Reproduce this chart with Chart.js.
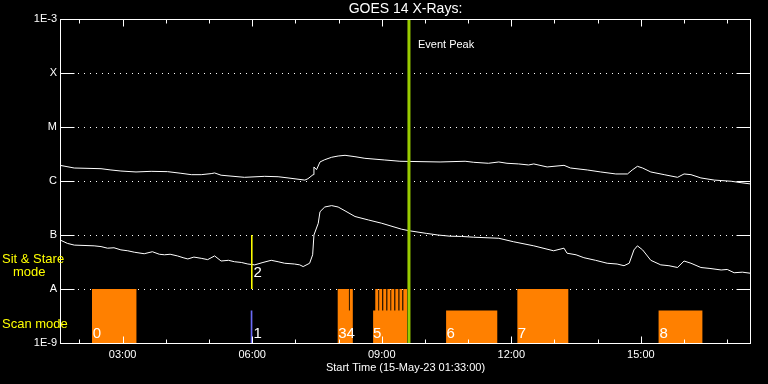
<!DOCTYPE html>
<html>
<head>
<meta charset="utf-8">
<script src="https://cdn.jsdelivr.net/npm/chart.js@4.4.1/dist/chart.umd.min.js"></script>
<style>
  html, body { margin: 0; padding: 0; background: #000; }
  canvas { background: #000; display: block; }
</style>
</head>
<body>
<canvas id="goesChart" width="768" height="384"></canvas>
<script>
// time axis in decimal hours UT (start 01:33)
const tStart = 1.55;
const tEnd = 17.55;
const hourTicks = [2, 3, 4, 5, 6, 7, 8, 9, 10, 11, 12, 13, 14, 15, 16, 17];

const decades = [1e-9, 1e-8, 1e-7, 1e-6, 1e-5, 1e-4, 1e-3];
const decadeNames = ['1E-9', 'A', 'B', 'C', 'M', 'X', '1E-3'];

// GOES 14 long channel (1-8 A)
const longTime = [1.55, 1.88, 2.50, 2.73, 2.96, 3.31, 3.66, 4.04, 4.35, 4.59, 4.82, 5.05, 5.13, 5.28, 5.82, 6.29, 6.60, 6.83, 7.22, 7.29, 7.41, 7.43, 7.49, 7.57, 7.68, 7.84, 7.99, 8.15, 8.38, 8.61, 9.07, 9.42, 10.35, 10.93, 11.13, 11.47, 11.71, 11.90, 12.17, 12.40, 12.52, 12.83, 13.22, 13.37, 13.76, 14.07, 14.42, 14.69, 14.80, 14.92, 15.04, 15.23, 15.54, 15.85, 16.00, 16.16, 16.39, 16.70, 17.09, 17.32, 17.55];
const longFlux = [1.95e-6, 1.74e-6, 1.69e-6, 1.60e-6, 1.53e-6, 1.47e-6, 1.51e-6, 1.49e-6, 1.39e-6, 1.31e-6, 1.31e-6, 1.37e-6, 1.41e-6, 1.28e-6, 1.17e-6, 1.22e-6, 1.20e-6, 1.14e-6, 1.04e-6, 1.10e-6, 1.31e-6, 1.82e-6, 1.62e-6, 2.25e-6, 2.48e-6, 2.75e-6, 2.90e-6, 2.99e-6, 2.82e-6, 2.63e-6, 2.45e-6, 2.32e-6, 2.25e-6, 2.32e-6, 2.22e-6, 2.13e-6, 2.25e-6, 2.13e-6, 2.07e-6, 1.98e-6, 2.07e-6, 1.82e-6, 1.95e-6, 1.74e-6, 1.60e-6, 1.47e-6, 1.35e-6, 1.35e-6, 1.60e-6, 1.87e-6, 1.74e-6, 1.47e-6, 1.31e-6, 1.17e-6, 1.35e-6, 1.31e-6, 1.14e-6, 1.04e-6, 9.9e-7, 9.3e-7, 8.8e-7];

// GOES 14 short channel (0.5-4 A)
const shortTime = [1.55, 1.72, 1.88, 2.34, 2.50, 2.65, 2.80, 2.96, 3.12, 3.27, 3.50, 3.69, 3.85, 3.97, 4.10, 4.27, 4.40, 4.51, 4.65, 4.82, 4.97, 5.13, 5.28, 5.45, 5.59, 5.75, 5.90, 6.06, 6.25, 6.44, 6.60, 6.75, 6.98, 7.10, 7.18, 7.33, 7.40, 7.43, 7.53, 7.57, 7.68, 7.84, 7.99, 8.15, 8.38, 8.69, 9.00, 9.46, 9.66, 10.04, 10.30, 10.58, 10.85, 11.13, 11.71, 12.05, 12.52, 12.98, 13.22, 13.29, 13.50, 13.68, 13.95, 14.22, 14.45, 14.61, 14.73, 14.84, 14.92, 15.04, 15.23, 15.46, 15.65, 15.85, 16.00, 16.16, 16.39, 16.60, 16.86, 17.00, 17.16, 17.35, 17.55];
const shortFlux = [8.1e-8, 7.0e-8, 6.5e-8, 6.3e-8, 6.1e-8, 5.7e-8, 5.8e-8, 5.3e-8, 5.1e-8, 4.8e-8, 4.5e-8, 4.9e-8, 4.4e-8, 4.3e-8, 4.4e-8, 4.1e-8, 3.8e-8, 3.6e-8, 3.9e-8, 3.7e-8, 3.5e-8, 4.1e-8, 3.3e-8, 3.4e-8, 3.2e-8, 3.1e-8, 2.9e-8, 2.8e-8, 3.1e-8, 3.4e-8, 3.2e-8, 3.0e-8, 2.9e-8, 2.8e-8, 2.6e-8, 3.0e-8, 4.3e-8, 1.0e-7, 1.65e-7, 2.7e-7, 3.3e-7, 3.5e-7, 3.3e-7, 2.8e-7, 2.2e-7, 1.9e-7, 1.65e-7, 1.28e-7, 1.19e-7, 1.07e-7, 1.0e-7, 9.5e-8, 9.4e-8, 9.1e-8, 8.7e-8, 7.5e-8, 6.3e-8, 5.1e-8, 5.7e-8, 4.6e-8, 4.3e-8, 3.8e-8, 3.4e-8, 3.0e-8, 2.9e-8, 2.7e-8, 3.0e-8, 5.3e-8, 6.3e-8, 5.3e-8, 3.4e-8, 2.8e-8, 2.7e-8, 2.5e-8, 3.3e-8, 3.0e-8, 2.5e-8, 2.4e-8, 2.25e-8, 2.3e-8, 2.0e-8, 2.05e-8, 1.95e-8];

// observation windows (sit & stare reach level A, scan mode lower)
const stareStart = [2.29, 7.98, 8.26, 8.85, 8.94, 9.035, 9.13, 9.22, 9.315, 9.41, 9.50, 12.14];
const stareEnd   = [3.32, 8.24, 8.33, 8.92, 9.01, 9.105, 9.20, 9.29, 9.385, 9.475, 9.585, 13.32];
const scanStart = [7.98, 8.80, 10.49, 15.41];
const scanEnd   = [8.33, 9.585, 11.675, 16.43];
const blueStart = [5.96];
const blueEnd   = [6.01];
const stareLevel = 1e-8;
const scanLevel = 4e-9;

// markers
const stareMarkTime = 5.99;
const eventPeakTime = 9.63;

const obsLabels     = ['0', '1', '2', '34', '5', '6', '7', '8'];
const obsLabelTime  = [2.31, 6.03, 6.03, 7.99, 8.80, 10.50, 12.15, 15.43];
const obsLabelFlux  = [1.25e-9, 1.25e-9, 1.67e-8, 1.25e-9, 1.25e-9, 1.25e-9, 1.25e-9, 1.25e-9];

const FONT = "'Liberation Sans', Arial, sans-serif";

function toPoints(xs, ys) {
  return xs.map((x, i) => ({ x: x, y: ys[i] }));
}

// step outline of the windows, down to the floor between them
function windowProfile(starts, ends, levels) {
  const floor = 1e-9;
  const edges = [...new Set([...starts, ...ends])].sort((a, b) => a - b);
  const pts = [{ x: edges[0], y: floor }];
  for (let i = 0; i < edges.length - 1; i++) {
    const mid = (edges[i] + edges[i + 1]) / 2;
    let h = floor;
    starts.forEach((s, j) => {
      if (s <= mid && mid < ends[j] && levels[j] > h) h = levels[j];
    });
    pts.push({ x: edges[i], y: h }, { x: edges[i + 1], y: h });
  }
  pts.push({ x: edges[edges.length - 1], y: floor });
  return pts;
}

const orangeStarts = stareStart.concat(scanStart);
const orangeEnds = stareEnd.concat(scanEnd);
const orangeLevels = stareStart.map(() => stareLevel).concat(scanStart.map(() => scanLevel));

const idlFrame = {
  id: 'idlFrame',
  beforeDatasetsDraw(chart) {
    const { ctx, chartArea: a, scales: { y } } = chart;
    ctx.save();
    ctx.strokeStyle = '#fff';
    ctx.lineWidth = 1;
    ctx.setLineDash([1, 5]);
    decades.slice(1, -1).forEach(v => {
      const py = Math.round(y.getPixelForValue(v)) + 0.5;
      ctx.beginPath();
      ctx.moveTo(a.left, py);
      ctx.lineTo(a.right, py);
      ctx.stroke();
    });
    ctx.restore();
  },
  afterDraw(chart) {
    const { ctx, chartArea: a, scales: { x, y } } = chart;
    ctx.save();
    ctx.strokeStyle = '#fff';
    ctx.lineWidth = 1;
    const L = a.left + 0.5, R = a.right - 0.5, T = a.top + 0.5, B = a.bottom + 0.5;
    ctx.strokeRect(L, T, R - L, B - T);

    // inward ticks
    ctx.beginPath();
    hourTicks.forEach(h => {
      const px = Math.round(x.getPixelForValue(h)) + 0.5;
      const len = h % 3 === 0 ? 7 : 4;
      ctx.moveTo(px, B); ctx.lineTo(px, B - len);
      ctx.moveTo(px, T); ctx.lineTo(px, T + len);
    });
    decades.slice(1, -1).forEach(v => {
      const py = Math.round(y.getPixelForValue(v)) + 0.5;
      ctx.moveTo(L, py); ctx.lineTo(L + 14, py);
      ctx.moveTo(R, py); ctx.lineTo(R - 14, py);
    });
    ctx.stroke();

    // observation numbers
    ctx.fillStyle = '#fff';
    ctx.font = '15px ' + FONT;
    ctx.textAlign = 'left';
    ctx.textBaseline = 'alphabetic';
    obsLabels.forEach((t, i) => {
      ctx.fillText(t, x.getPixelForValue(obsLabelTime[i]), y.getPixelForValue(obsLabelFlux[i]));
    });

    // event peak label
    ctx.font = '11px ' + FONT;
    ctx.fillText('Event Peak', x.getPixelForValue(eventPeakTime) + 9, a.top + 29);

    // mode labels
    ctx.fillStyle = '#ffff00';
    ctx.font = '13px ' + FONT;
    ctx.textBaseline = 'middle';
    ctx.fillText('Sit & Stare', 2, 259);
    ctx.fillText('mode', 13, 272);
    ctx.fillText('Scan mode', 2, 324);
    ctx.restore();
  }
};

const ctx = document.getElementById('goesChart').getContext('2d');
const chart = new Chart(ctx, {
  type: 'line',
  data: {
    datasets: [
      {
        label: 'Event Peak',
        data: [{ x: eventPeakTime, y: 1e-3 }, { x: eventPeakTime, y: 1e-9 }],
        borderColor: '#99cc00',
        borderWidth: 3,
        pointRadius: 0,
        order: 0
      },
      {
        label: 'Sit & Stare marker',
        data: [{ x: stareMarkTime, y: 1e-7 }, { x: stareMarkTime, y: 1e-8 }],
        borderColor: '#ffff00',
        borderWidth: 1,
        pointRadius: 0,
        order: 1
      },
      {
        label: 'Long',
        data: toPoints(longTime, longFlux),
        borderColor: '#ffffff',
        borderWidth: 1,
        pointRadius: 0,
        tension: 0,
        order: 2
      },
      {
        label: 'Short',
        data: toPoints(shortTime, shortFlux),
        borderColor: '#ffffff',
        borderWidth: 1,
        pointRadius: 0,
        tension: 0,
        order: 2
      },
      {
        label: 'Scan (blue)',
        data: windowProfile(blueStart, blueEnd, blueStart.map(() => scanLevel)),
        borderColor: 'rgba(0,0,0,0)',
        borderWidth: 0,
        backgroundColor: '#6a6af5',
        fill: { value: 1e-9 },
        pointRadius: 0,
        order: 3
      },
      {
        label: 'Observations',
        data: windowProfile(orangeStarts, orangeEnds, orangeLevels),
        borderColor: 'rgba(0,0,0,0)',
        borderWidth: 0,
        backgroundColor: '#ff8000',
        fill: { value: 1e-9 },
        pointRadius: 0,
        order: 4
      }
    ]
  },
  options: {
    responsive: false,
    animation: false,
    layout: { padding: { left: 0, right: 17, top: 0, bottom: 0 } },
    plugins: {
      legend: { display: false },
      tooltip: { enabled: false },
      title: {
        display: true,
        text: 'GOES 14 X-Rays:',
        color: '#fff',
        fullSize: false,
        font: { family: FONT, size: 14, weight: 'normal' },
        padding: { top: 1, bottom: 1.2 }
      }
    },
    scales: {
      x: {
        type: 'linear',
        min: tStart,
        max: tEnd,
        afterBuildTicks: scale => { scale.ticks = hourTicks.map(v => ({ value: v })); },
        afterFit: scale => { scale.height = 41; },
        grid: { display: false, drawTicks: false },
        border: { display: false },
        ticks: {
          autoSkip: false,
          maxRotation: 0,
          minRotation: 0,
          color: '#fff',
          padding: 5,
          font: { family: FONT, size: 11 },
          callback: v => (v % 3 === 0 ? String(v).padStart(2, '0') + ':00' : '')
        },
        title: {
          display: true,
          text: 'Start Time (15-May-23 01:33:00)',
          color: '#fff',
          font: { family: FONT, size: 11 },
          padding: { top: 0, bottom: 9.5 }
        }
      },
      y: {
        type: 'logarithmic',
        min: 1e-9,
        max: 1e-3,
        afterBuildTicks: scale => { scale.ticks = decades.map(v => ({ value: v })); },
        afterFit: scale => { scale.width = 60; },
        grid: { display: false, drawTicks: false },
        border: { display: false },
        ticks: {
          color: '#fff',
          padding: 3,
          font: { family: FONT, size: 11 },
          callback: (v, i) => decadeNames[i]
        }
      }
    }
  },
  plugins: [idlFrame]
});
</script>
</body>
</html>
